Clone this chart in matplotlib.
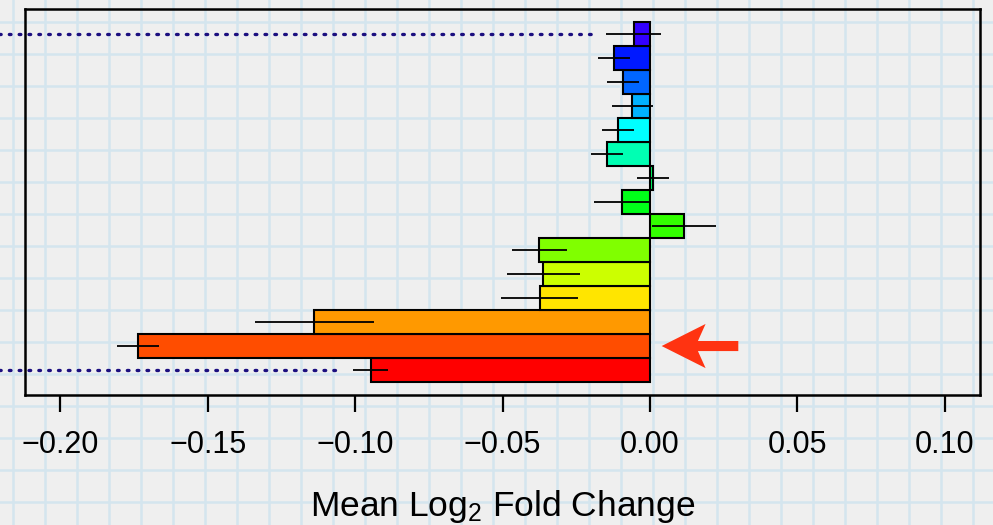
import numpy as np
import matplotlib
matplotlib.use("Agg")
import matplotlib.pyplot as plt
from matplotlib.colors import hsv_to_rgb

plt.rcParams['font.family'] = ['Liberation Sans', 'DejaVu Sans']
plt.rcParams['mathtext.fontset'] = 'custom'
plt.rcParams['mathtext.rm'] = 'Liberation Sans'
plt.rcParams['mathtext.it'] = 'Liberation Sans:italic'

# bars listed bottom to top
means = [-0.0947, -0.1736, -0.1138, -0.0374, -0.0361, -0.0375, 0.0115, -0.0093,
         0.0011, -0.0146, -0.0108, -0.0059, -0.0091, -0.0122, -0.0055]
errs = [0.0059, 0.0071, 0.0203, 0.0131, 0.0123, 0.0093, 0.0108, 0.0095,
        0.0054, 0.0055, 0.0055, 0.0069, 0.0055, 0.0054, 0.0093]
xticks = [-0.20, -0.15, -0.10, -0.05, 0.00, 0.05, 0.10]
xlabel = 'Mean Log$_2$ Fold Change'
dotted_bars = [0, 14]   # bars marked with dotted guide lines
arrow_bar = 1           # bar pointed at by the red arrow

n = len(means)
colors = [hsv_to_rgb((i * 18 / 360.0, 1, 1)) for i in range(n)]
ypos = np.arange(n) + 0.5

fig = plt.figure(figsize=(9.93, 5.25), dpi=100)

# graph paper background
bg = fig.add_axes([0, 0, 1, 1], zorder=0)
bg.set_xlim(0, 993)
bg.set_ylim(525, 0)
bg.set_facecolor('#efefef')
for gx in np.arange(13, 993, 32.0):
    bg.axvline(gx, color='#d4e5ee', lw=1.8)
for gy in np.arange(22, 525, 32.0):
    bg.axhline(gy, color='#d4e5ee', lw=1.8)
bg.axis('off')
fig.patch.set_facecolor('#efefef')

ax = fig.add_axes([25 / 993, 1 - 395 / 525, 955 / 993, 386 / 525], zorder=1)
ax.set_facecolor('none')

ax.barh(ypos, means, height=1.0, color=colors, edgecolor='black', linewidth=1.5, zorder=2)
lo = [m - e for m, e in zip(means, errs)]
hi = [m + e for m, e in zip(means, errs)]
ax.hlines(ypos, lo, hi, color='black', lw=1.3, zorder=3)

# dotted guides
for b in dotted_bars:
    ax.plot([-0.3, lo[b] - 0.005], [ypos[b], ypos[b]], color='#1c0f80', lw=2.4,
            linestyle=(0, (0.5, 2.45)), dash_capstyle='round', clip_on=False, zorder=4)

# red arrow
tip = 0.004
y0 = ypos[arrow_bar]
ax_x = [tip, tip + 0.0149, tip + 0.0123, tip + 0.026, tip + 0.026, tip + 0.0123, tip + 0.0149]
ax_y = [y0, y0 + 0.92, y0 + 0.21, y0 + 0.21, y0 - 0.21, y0 - 0.21, y0 - 0.92]
ax.fill(ax_x, ax_y, color='#ff3311', lw=0, clip_on=False, zorder=4)

ax.set_xlim(-0.212, 0.112)
ax.set_ylim(-0.54, n + 0.54)
ax.set_yticks([])
ax.set_xticks(xticks)
ax.set_xticklabels(['%.2f' % t if t >= 0 else '\u2212%.2f' % abs(t) for t in xticks])
ax.tick_params(axis='x', length=12.5, width=1.6, pad=13, labelsize=22, direction='out')
for sp in ax.spines.values():
    sp.set_linewidth(1.8)
ax.set_xlabel(xlabel, fontsize=25.5)
ax.xaxis.label.set_va('baseline')
ax.xaxis.set_label_coords(0.5, (395 - 516) / 386)

fig.savefig('out.png', dpi=100, facecolor=fig.get_facecolor())
